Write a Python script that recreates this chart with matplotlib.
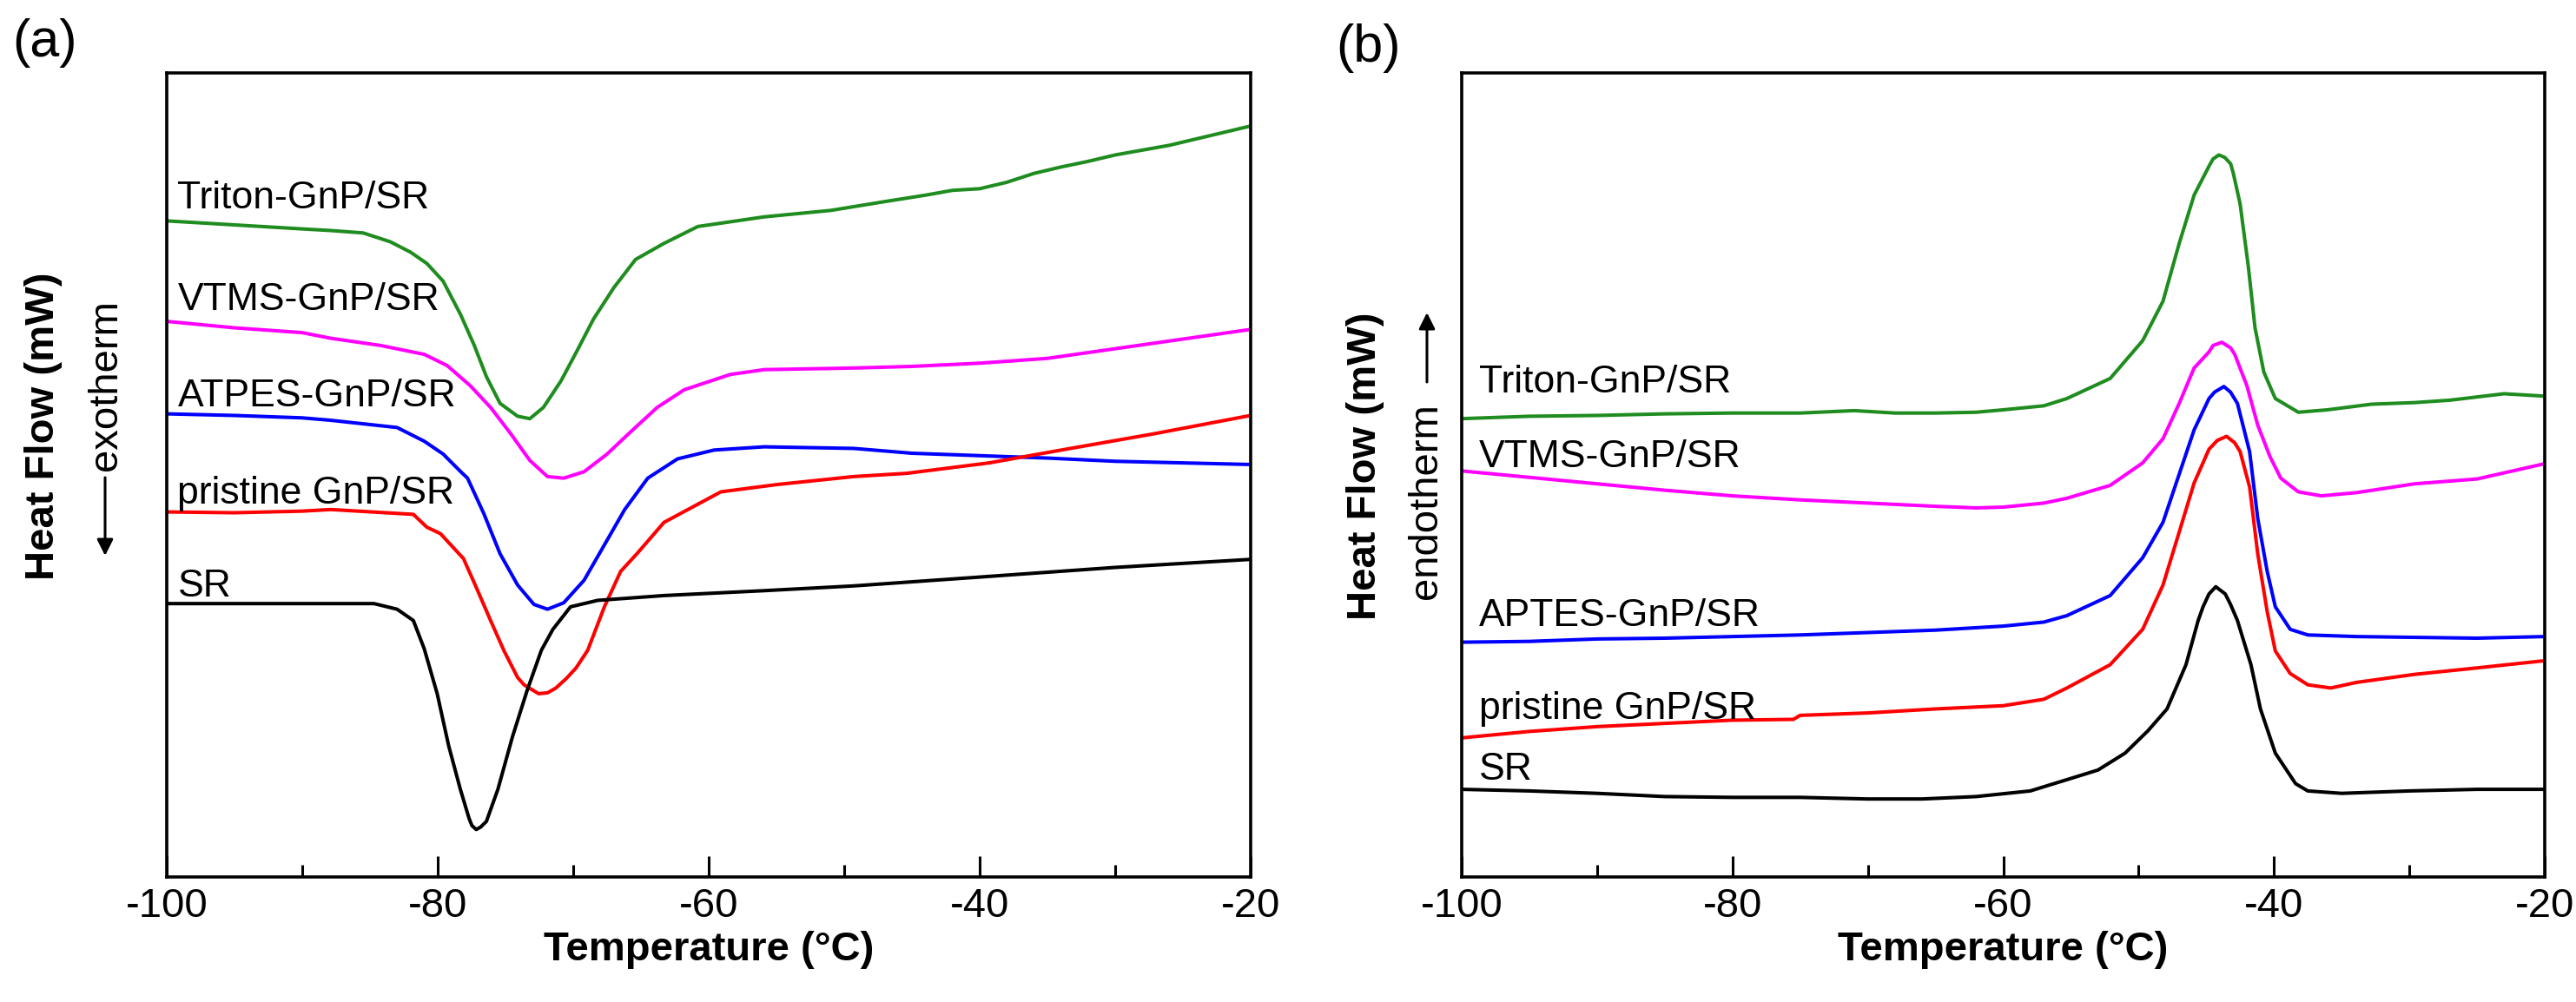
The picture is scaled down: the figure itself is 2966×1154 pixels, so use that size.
import matplotlib
matplotlib.use("Agg")
import matplotlib.pyplot as plt
from matplotlib.patches import FancyArrowPatch

plt.rcParams['font.family'] = ['Liberation Sans', 'DejaVu Sans']
plt.rcParams['axes.unicode_minus'] = False

# ---- panel (a): cooling, exotherm down (arbitrary units) ----
a_t_sr = [-100, -90, -84.7, -83.0, -81.8, -81.0, -80.04, -79.19, -78.33, -77.69, -77.48, -77.16,
          -76.84, -76.41, -75.56, -74.49, -73.42, -72.35, -71.5, -70.2, -68.2, -63.3, -56,
          -49.3, -40, -30, -20]
a_sr = [34.0, 34.0, 34.0, 33.3, 31.9, 28.4, 22.8, 16.3, 10.9, 7.3, 6.4, 5.9,
        6.2, 6.9, 10.9, 17.4, 23.1, 28.2, 30.8, 33.6, 34.4, 35.0, 35.6,
        36.2, 37.3, 38.5, 39.5]

a_t_pr = [-100, -95, -90, -87.9, -81.8, -80.8, -79.8, -78.1, -77.1, -76.1, -75.1, -74.1,
          -73.63, -72.56, -71.9, -71.28, -70.5, -69.79, -68.93, -67.7, -66.5, -65.3, -63.3,
          -59.1, -55, -49.3, -45.4, -39.3, -33.3, -27.2, -20]
a_pr = [45.4, 45.3, 45.5, 45.7, 45.1, 43.5, 42.7, 39.6, 35.8, 31.9, 28.1, 24.8,
        23.9, 22.8, 22.9, 23.5, 24.7, 26.0, 28.2, 33.6, 38.0, 40.2, 44.1,
        47.9, 48.8, 49.8, 50.2, 51.5, 53.3, 55.1, 57.4]

a_t_at = [-100, -95, -90, -87.9, -83.0, -81.0, -79.6, -78.3, -77.8, -76.6, -75.4, -74.1,
          -72.9, -71.9, -70.7, -69.2, -67.7, -66.2, -64.5, -62.3, -59.6, -55.9, -49.3,
          -45, -40, -35, -30, -25, -20]
a_at = [57.6, 57.4, 57.1, 56.8, 55.9, 54.2, 52.6, 50.4, 49.6, 45.2, 40.2, 36.3,
        33.9, 33.3, 34.1, 36.9, 41.3, 45.7, 49.6, 52.0, 53.1, 53.5, 53.3,
        52.7, 52.4, 52.1, 51.7, 51.5, 51.3]

a_t_vt = [-100, -95, -90, -87.9, -84.2, -81.0, -79.3, -77.6, -76.1, -74.6, -73.2, -71.9,
          -70.7, -69.2, -67.5, -65.8, -63.8, -61.8, -58.4, -55.9, -49.3, -45, -40, -35,
          -30, -25, -20]
a_vt = [69.1, 68.3, 67.7, 67.0, 66.1, 65.0, 63.6, 61.1, 58.4, 55.1, 51.8, 49.8,
        49.6, 50.4, 52.6, 55.3, 58.4, 60.6, 62.5, 63.1, 63.3, 63.5, 63.9, 64.5,
        65.7, 66.9, 68.1]

a_t_tr = [-100, -95, -90, -87.9, -85.5, -83.5, -82.0, -80.8, -79.6, -78.3, -77.3, -76.4,
          -75.4, -74.1, -73.2, -72.2, -70.9, -69.7, -68.5, -67.0, -65.4, -63.3, -60.8,
          -55.9, -51.0, -47, -44, -42, -40, -38, -36, -34, -32, -30, -28, -26, -24, -22, -20]
a_tr = [81.6, 81.1, 80.6, 80.4, 80.1, 79.0, 77.7, 76.3, 74.1, 69.9, 66.1, 62.2,
        58.9, 57.3, 57.0, 58.4, 61.7, 65.5, 69.4, 73.3, 76.8, 78.8, 80.9,
        82.1, 82.9, 84.0, 84.8, 85.4, 85.6, 86.4, 87.5, 88.3, 89.0, 89.8, 90.4, 91.0, 91.8, 92.6, 93.4]

# ---- panel (b): heating, endotherm up (arbitrary units) ----
b_t_sr = [-100, -95, -90, -85, -80, -75, -70, -66, -62, -58, -55.3, -53, -51, -49.3, -47.9,
          -46.5, -45.6, -45.24, -44.8, -44.3, -43.6, -43.21, -42.7, -41.7, -41.0, -39.9,
          -38.4, -37.5, -35, -30, -25, -20]
b_sr = [10.9, 10.7, 10.4, 10.0, 9.9, 9.9, 9.7, 9.7, 10.0, 10.7, 12.1, 13.3, 15.4, 18.2, 20.9,
        26.4, 31.9, 33.6, 35.2, 36.1, 35.2, 33.9, 31.9, 26.4, 20.9, 15.4,
        11.6, 10.7, 10.4, 10.7, 10.9, 10.9]

b_t_pr = [-100, -95, -90, -85, -80, -75.5, -75, -70, -65, -60, -57, -55.3, -52.1, -49.7,
          -48.2, -47.0, -45.9, -44.8, -44.18, -43.5, -42.9, -42.5, -41.8, -41.2, -40.5,
          -39.9, -38.8, -37.5, -35.8, -33.9, -29.6, -25, -20]
b_pr = [17.3, 18.1, 18.7, 19.1, 19.5, 19.6, 20.1, 20.4, 20.9, 21.3, 22.1, 23.5, 26.4, 30.8,
        36.3, 42.9, 49.0, 53.2, 54.3, 54.8, 54.0, 52.9, 48.5, 40.2, 33.0,
        28.1, 25.3, 23.9, 23.5, 24.2, 25.2, 26.0, 26.9]

b_t_ap = [-100, -95, -90, -85, -80, -75, -70, -65, -60, -57, -55.3, -52.1, -49.7, -48.2,
          -47.0, -45.9, -44.8, -44.39, -43.7, -43.21, -42.7, -41.8, -41.2, -40.5, -39.9,
          -38.8, -37.5, -33.9, -29.6, -25, -20]
b_ap = [29.2, 29.3, 29.6, 29.7, 29.9, 30.1, 30.4, 30.7, 31.2, 31.7, 32.5, 35.0, 39.7, 44.1,
        50.1, 55.6, 59.5, 60.3, 61.0, 60.3, 58.9, 52.9, 44.6, 38.0, 33.6,
        30.8, 30.1, 29.9, 29.8, 29.7, 29.9]

b_t_vt = [-100, -95, -90, -85, -80, -75, -70, -65, -62, -60, -57, -55.3, -52.1, -49.7,
          -48.2, -47.0, -45.9, -44.8, -44.5, -43.85, -43.2, -42.9, -42.0, -41.2, -40.3,
          -39.5, -38.2, -36.5, -33.9, -29.6, -25, -20]
b_vt = [50.5, 49.7, 48.9, 48.1, 47.4, 46.9, 46.5, 46.1, 45.9, 46.0, 46.5, 47.1, 48.7, 51.5,
        54.5, 58.9, 63.3, 65.3, 66.1, 66.5, 65.8, 65.0, 61.1, 56.2, 52.3,
        49.6, 47.9, 47.4, 47.8, 48.9, 49.5, 51.4]

b_t_tr = [-100, -95, -90, -85, -80, -75, -71, -68, -65, -62, -60, -57, -55.3, -52.1, -49.7,
          -48.2, -47.0, -45.9, -44.8, -44.5, -44.07, -43.64, -43.2, -43.0, -42.5, -41.9,
          -41.4, -40.75, -39.9, -38.2, -36.05, -32.8, -29.6, -27, -23, -20]
b_tr = [57.0, 57.3, 57.4, 57.6, 57.7, 57.7, 58.0, 57.7, 57.7, 57.8, 58.1, 58.6, 59.5, 62.0, 66.7,
        71.6, 78.8, 84.8, 88.4, 89.3, 89.8, 89.5, 88.7, 87.5, 83.7, 76.0,
        68.3, 62.8, 59.5, 57.8, 58.1, 58.8, 59.0, 59.3, 60.1, 59.8]

a_names = ["Triton-GnP/SR", "VTMS-GnP/SR", "ATPES-GnP/SR", "pristine GnP/SR", "SR"]
a_label_y = [84.4, 71.8, 59.8, 47.7, 36.1]
b_names = ["Triton-GnP/SR", "VTMS-GnP/SR", "APTES-GnP/SR", "pristine GnP/SR", "SR"]
b_label_y = [61.5, 52.2, 32.5, 20.9, 13.3]

couleurs = ['#1f8c1f', '#ff00ff', '#0000ff', '#ff0000', '#000000']

W, H = 2966, 1154
fig = plt.figure(figsize=(W / 100, H / 100), dpi=100)


def preparer_axe(ax):
    ax.set_xlim(-100, -20)
    ax.set_ylim(0, 100)
    ax.set_xticks(range(-100, -19, 20))
    ax.set_xticks(range(-90, -20, 20), minor=True)
    ax.set_yticks([])
    ax.tick_params(axis='x', which='major', direction='in', length=17, width=2.2,
                   labelsize=34, pad=9, top=False)
    ax.tick_params(axis='x', which='minor', direction='in', length=10, width=2.2, top=False)
    for sp in ax.spines.values():
        sp.set_linewidth(2.6)
    ax.set_xlabel("Temperature (°C)", fontsize=34, fontweight='bold', labelpad=4)


ax_a = fig.add_axes([192 / W, 1 - 1010 / H, 1248 / W, 926 / H])
ax_b = fig.add_axes([1683 / W, 1 - 1010 / H, 1247 / W, 926 / H])

courbes_a = [(a_t_tr, a_tr), (a_t_vt, a_vt), (a_t_at, a_at), (a_t_pr, a_pr), (a_t_sr, a_sr)]
courbes_b = [(b_t_tr, b_tr), (b_t_vt, b_vt), (b_t_ap, b_ap), (b_t_pr, b_pr), (b_t_sr, b_sr)]

for ax, courbes, noms, ylab, xlab in [(ax_a, courbes_a, a_names, a_label_y, -99.2),
                                      (ax_b, courbes_b, b_names, b_label_y, -98.7)]:
    preparer_axe(ax)
    for (t, v), c in zip(courbes, couleurs):
        ax.plot(t, v, color=c, lw=2.9, solid_joinstyle='round', solid_capstyle='round')
    for nom, y in zip(noms, ylab):
        ax.text(xlab, y, nom, fontsize=32, ha='left', va='center')

# titres d'axe et fleches de sens du flux
fig.text(50 / W, 1 - 491 / H, "Heat Flow (mW)", rotation=90, fontsize=34,
         fontweight='bold', ha='center', va='center')
fig.text(122 / W, 1 - 443 / H, "exotherm", rotation=90, fontsize=34, ha='center', va='center')
fig.text(1572 / W, 1 - 537 / H, "Heat Flow (mW)", rotation=90, fontsize=34,
         fontweight='bold', ha='center', va='center')
fig.text(1642 / W, 1 - 577 / H, "endotherm", rotation=90, fontsize=34, ha='center', va='center')

fleche = dict(arrowstyle='-|>', color='black', lw=2.2, mutation_scale=28,
              shrinkA=0, shrinkB=0)
fig.patches.append(FancyArrowPatch((121 / W, 1 - 550 / H), (121 / W, 1 - 640 / H),
                                   transform=fig.transFigure, **fleche))
fig.patches.append(FancyArrowPatch((1643 / W, 1 - 440 / H), (1643 / W, 1 - 360 / H),
                                   transform=fig.transFigure, **fleche))

fig.text(51 / W, 1 - 49 / H, "(a)", fontsize=44, ha='center', va='center')
fig.text(1575 / W, 1 - 55 / H, "(b)", fontsize=44, ha='center', va='center')

fig.savefig("out.png", dpi=100)
